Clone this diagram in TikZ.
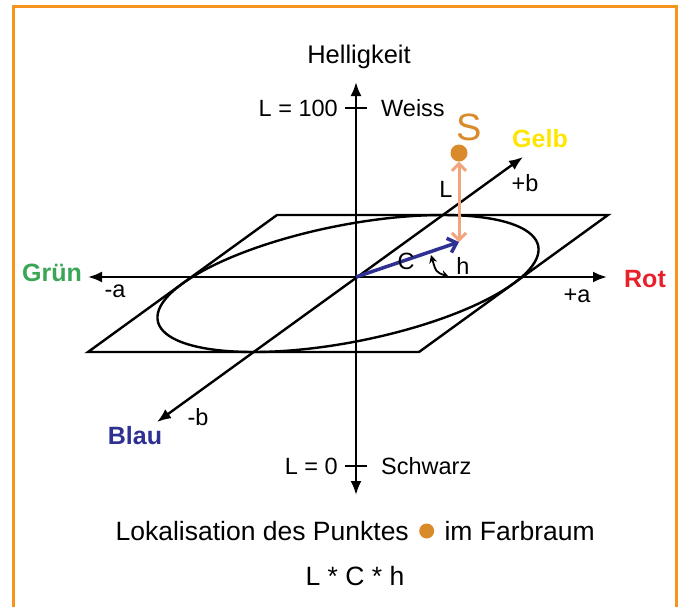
\documentclass[tikz,border=0pt]{standalone}
\usepackage{fontspec}
\setmainfont{Liberation Sans}
\usepackage{tikz}
\usetikzlibrary{positioning,arrows.meta}
\definecolor{rahmen}{HTML}{F7941D}
\definecolor{gruen}{HTML}{3AA655}
\definecolor{rot}{HTML}{E8202A}
\definecolor{gelb}{HTML}{FFE600}
\definecolor{blau}{HTML}{2E3192}
\definecolor{sorange}{HTML}{D98A2B}
\definecolor{lachs}{HTML}{F2A57C}
\tikzset{
    axis/.style={line width=2.4pt, {Latex[length=14pt,width=11pt]}-{Latex[length=14pt,width=11pt]}}, % Achsen mit Pfeilen
    plane/.style={line width=2.4pt},
    label/.style={font=\fontsize{23.5}{26}\selectfont, inner sep=1pt},
    farbe/.style={font=\fontsize{25}{28}\selectfont\bfseries, inner sep=1pt},
    caption/.style={font=\fontsize{26.5}{30}\selectfont, inner sep=1pt},
    dot/.style={circle, fill=sorange, inner sep=0pt, minimum size=#1}
}
\begin{document}
\begin{tikzpicture}[x=1pt, y=-1pt]
    \useasboundingbox (0,0) rectangle (680,606);
    \draw[rahmen, line width=3pt] (13,6) rectangle (676,625);

    % Achsen
    \coordinate (O) at (356,277);
    \coordinate (Ltop) at (356,82);
    \coordinate (Lbot) at (356,495);
    \coordinate (aneg) at (88,277);
    \coordinate (apos) at (607,277);
    \coordinate (bneg) at (157,422);
    \coordinate (bpos) at (523,157);

    % Ebene und Ellipse
    \coordinate (P1) at (88,352);
    \coordinate (P2) at (419,352);
    \coordinate (P3) at (608,215);
    \coordinate (P4) at (277,215);
    \draw[plane] (P1) -- (P2) -- (P3) -- (P4) -- cycle;
    \draw[plane] plot[domain=0:360, samples=120, smooth] ({348+165.5*cos(\x)+94.5*sin(\x)}, {283.5-68.5*sin(\x)}) -- cycle;

    \draw[axis] (Lbot) -- (Ltop);
    \draw[axis] (aneg) -- (apos);
    \draw[axis] (bneg) -- (bpos);

    % Skalenstriche
    \coordinate (t100w) at (345,108);
    \coordinate (t100e) at (367,108);
    \coordinate (t0w) at (345,466);
    \coordinate (t0e) at (367,466);
    \draw[line width=2pt] (t100w) -- (t100e);
    \draw[line width=2pt] (t0w) -- (t0e);

    % Beschriftungen
    \node (hell) [label, font=\fontsize{25.5}{28}\selectfont] at (359,57) {Helligkeit};
    \node (l100) [label, anchor=east] at (339,108) {L = 100};
    \node (weiss) [label, anchor=west] at (380,108) {Weiss};
    \node (l0) [label, anchor=east] at (339,466) {L = 0};
    \node (schwarz) [label, anchor=west] at (380,466) {Schwarz};
    \node (gruen) [farbe, text=gruen] at (52,273) {Grün};
    \node (rot) [farbe, text=rot] at (645,279) {Rot};
    \node (gelb) [farbe, text=gelb] at (540,139) {Gelb};
    \node (blau) [farbe, text=blau] at (135,436) {Blau};
    \node (apl) [label] at (577,296) {+a};
    \node (amin) [label] at (115,291) {-a};
    \node (bpl) [label] at (525,183) {+b};
    \node (bmin) [label] at (198,417) {-b};

    % Punkt S
    \node (S) [font=\fontsize{38}{42}\selectfont, text=sorange, inner sep=0pt] at (469,127) {S};
    \node (Sdot) [dot=17pt] at (459,153) {};
    \coordinate (Sfuss) at (459,242);
    \draw[lachs, line width=3pt, {Straight Barb[length=7pt,width=14pt]}-{Straight Barb[length=7pt,width=14pt]}] (Sdot) -- (Sfuss);
    \node (Llab) [label] at (446,189) {L};
    \draw[blau, line width=3.5pt, -{Straight Barb[length=8pt,width=15pt]}] (O) -- (Sfuss);
    \node (Clab) [label] at (406,261) {C};

    % Winkel h
    \coordinate (h1) at (431,255);
    \coordinate (h2) at (449,277);
    \draw[line width=1.8pt, {Stealth[length=8pt,width=8pt]}-{Stealth[length=8pt,width=8pt]}] (h1) .. controls (436,272) .. (h2);
    \node (hlab) [label] at (463,266) {h};

    % Legende
    \node (cap1) [caption, anchor=east] at (410,531) {Lokalisation des Punktes};
    \node (capdot) [dot=15pt, right=9pt of cap1] {};
    \node (cap2) [caption, right=9pt of capdot] {im Farbraum};
    \node (cap3) [caption] at (355,576) {L * C * h};
\end{tikzpicture}
\end{document}
